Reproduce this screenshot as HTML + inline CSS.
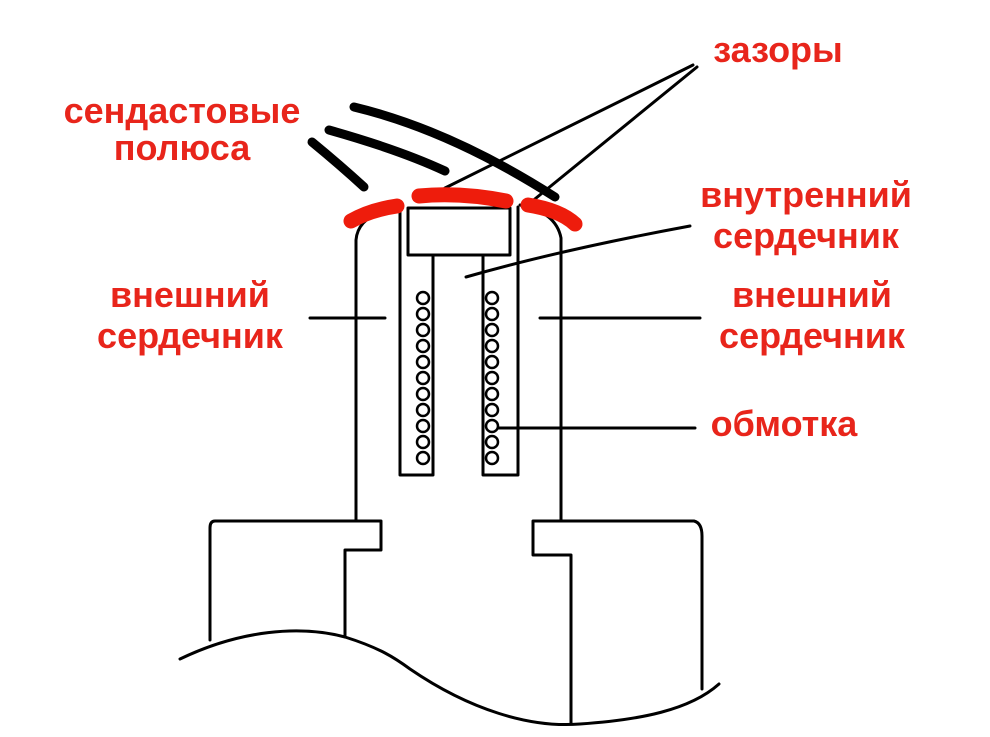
<!DOCTYPE html>
<html><head><meta charset="utf-8"><style>
body{margin:0;background:#fff}
svg{display:block}
text{font-family:"Liberation Sans",sans-serif;font-weight:bold;fill:#e8251b;font-size:36px;text-anchor:middle}
</style></head><body>
<svg width="990" height="737" viewBox="0 0 990 737">
<g fill="none" stroke="#000" stroke-width="3" stroke-linecap="round" stroke-linejoin="round">
<path d="M356,521 L356,240 Q358,215 397,207"/>
<path d="M400,207 L400,475 L433,475 L433,255"/>
<rect x="408" y="208" width="102" height="47"/>
<path d="M483,255 L483,475 L518,475 L518,207"/>
<path d="M520,205 Q556,212 561,238 L561,521"/>
<path d="M356,521 L215,521 Q210,521 210,528 L210,640"/>
<path d="M356,521 L381,521 L381,550 L345,550 L345,637"/>
<path d="M561,521 L533,521 L533,555 L571,555 L571,723"/>
<path d="M561,521 L694,521 Q702,523 702,536 L702,689"/>
<path d="M180,659 C240,630 300,625 345,637 C380,648 395,658 410,669 C470,710 530,728 580,724 C640,720 690,710 719,684"/>
<path d="M693,65 L445,188"/>
<path d="M697,67 L530,203"/>
<path d="M690,226 Q560,250 466,277"/>
<path d="M310,318 L385,318"/>
<path d="M540,318 L700,318"/>
<path d="M490,428 L695,428"/>
</g>
<g fill="#fff" stroke="#000" stroke-width="2.5">
<circle cx="423" cy="298" r="6"/><circle cx="423" cy="314" r="6"/><circle cx="423" cy="330" r="6"/><circle cx="423" cy="346" r="6"/><circle cx="423" cy="362" r="6"/><circle cx="423" cy="378" r="6"/><circle cx="423" cy="394" r="6"/><circle cx="423" cy="410" r="6"/><circle cx="423" cy="426" r="6"/><circle cx="423" cy="442" r="6"/><circle cx="423" cy="458" r="6"/>
<circle cx="492" cy="298" r="6"/><circle cx="492" cy="314" r="6"/><circle cx="492" cy="330" r="6"/><circle cx="492" cy="346" r="6"/><circle cx="492" cy="362" r="6"/><circle cx="492" cy="378" r="6"/><circle cx="492" cy="394" r="6"/><circle cx="492" cy="410" r="6"/><circle cx="492" cy="426" r="6"/><circle cx="492" cy="442" r="6"/><circle cx="492" cy="458" r="6"/>
</g>
<g fill="none" stroke="#000" stroke-width="9" stroke-linecap="round">
<path d="M354,107 Q450,130 555,197"/>
<path d="M329,130 Q400,150 445,171"/>
<path d="M312,142 Q340,165 364,187"/>
</g>
<g fill="none" stroke="#ee1c0c" stroke-width="15" stroke-linecap="round">
<path d="M351,221 Q370,210 397,206"/>
<path d="M419,196 Q460,192 506,201"/>
<path d="M528,205 Q560,210 575,224"/>
</g>
<text x="778" y="62">зазоры</text>
<text x="182" y="123">сендастовые</text>
<text x="182" y="160">полюса</text>
<text x="806" y="207">внутренний</text>
<text x="806" y="248">сердечник</text>
<text x="190" y="307">внешний</text>
<text x="190" y="348">сердечник</text>
<text x="812" y="307">внешний</text>
<text x="812" y="348">сердечник</text>
<text x="784" y="436">обмотка</text>
</svg>
</body></html>
